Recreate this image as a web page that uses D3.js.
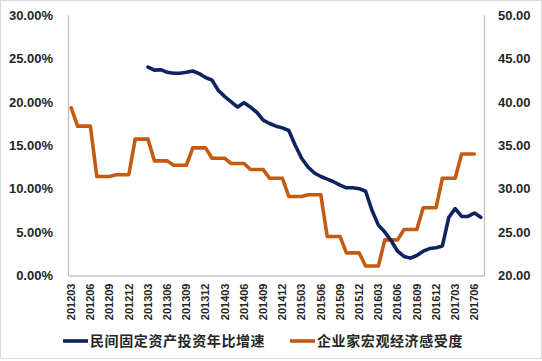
<!doctype html>
<html>
<head>
<meta charset="utf-8">
<title>民间固定资产投资与企业家宏观经济感受度</title>
<script src="https://cdnjs.cloudflare.com/ajax/libs/d3/7.8.5/d3.min.js"></script>
<style>
  body { margin: 0; background: #fff; }
  svg text { font-family: "Liberation Sans", Arial, sans-serif; }
</style>
</head>
<body>
<div id="chart"></div>
<script>
// months on the category axis
const months = [
  "201203","201204","201205","201206","201207","201208","201209","201210","201211","201212",
  "201301","201302","201303","201304","201305","201306","201307","201308","201309","201310","201311","201312",
  "201401","201402","201403","201404","201405","201406","201407","201408","201409","201410","201411","201412",
  "201501","201502","201503","201504","201505","201506","201507","201508","201509","201510","201511","201512",
  "201601","201602","201603","201604","201605","201606","201607","201608","201609","201610","201611","201612",
  "201701","201702","201703","201704","201705","201706","201707"
];
// labels shown every 3 months
const tickLabels = [
  "201203","201206","201209","201212","201303","201306","201309","201312",
  "201403","201406","201409","201412","201503","201506","201509","201512",
  "201603","201606","201609","201612","201703","201706"
];
// 民间固定资产投资年比增速 (%), left axis, starts 201303
const privateInvest = [
  null,null,null,null,null,null,null,null,null,null,null,null,
  24.0,23.65,23.7,23.4,23.3,23.3,23.4,23.55,23.25,22.8,
  22.5,21.3,20.6,20.0,19.4,19.9,19.4,18.8,17.9,17.5,
  17.2,17.0,16.7,15.0,13.5,12.5,11.8,11.4,11.1,10.8,
  10.4,10.1,10.1,10.0,9.7,7.5,5.8,5.0,4.0,2.8,
  2.2,2.0,2.3,2.8,3.1,3.2,3.4,6.7,7.7,6.8,
  6.8,7.2,6.7
];
// 企业家宏观经济感受度, right axis
const sentiment = [
  39.3, 37.2,37.2,37.2, 31.4,31.4,31.4, 31.6,31.6,31.6, 35.7,35.7,35.7,
  33.2,33.2,33.2, 32.7,32.7,32.7, 34.7,34.7,34.7, 33.5,33.5,33.5,
  32.9,32.9,32.9, 32.2,32.2,32.2, 31.2,31.2,31.2, 29.1,29.1,29.1,
  29.3,29.3,29.3, 24.5,24.5,24.5, 22.6,22.6,22.6, 21.1,21.1,21.1,
  24.1,24.1,24.1, 25.3,25.3,25.3, 27.8,27.8,27.8, 31.2,31.2,31.2,
  34.0,34.0,34.0, null
];
const leftTicks = [0, 5, 10, 15, 20, 25, 30];
const rightTicks = [20, 25, 30, 35, 40, 45, 50];
const seriesNames = ["民间固定资产投资年比增速", "企业家宏观经济感受度"];
const colors = ["#0f2360", "#c55a11"];

const W = 542, H = 361;
const plot = { left: 68, right: 484, top: 15, bottom: 275.5 };

const svg = d3.select('#chart').append('svg')
  .attr('width', W).attr('height', H);

// outer chart frame
svg.append('rect')
  .attr('x', 0.5).attr('y', 0.5)
  .attr('width', W - 1).attr('height', H - 3)
  .attr('fill', '#fff').attr('stroke', '#d9d9d9');

const x = d3.scaleBand().domain(months).range([plot.left, plot.right]).padding(0);
const yL = d3.scaleLinear().domain([0, 30]).range([plot.bottom, plot.top]);
const yR = d3.scaleLinear().domain([20, 50]).range([plot.bottom, plot.top]);
const cx = m => x(m) + x.bandwidth() / 2;

// axes
const leftAxis = d3.axisLeft(yL).tickValues(leftTicks).tickSize(0).tickPadding(15)
  .tickFormat(d => d.toFixed(2) + '%');
const rightAxis = d3.axisRight(yR).tickValues(rightTicks).tickSize(0).tickPadding(14)
  .tickFormat(d => d.toFixed(2));
const bottomAxis = d3.axisBottom(x).tickValues(tickLabels).tickSize(0);

const gL = svg.append('g').attr('transform', `translate(${plot.left},0)`).call(leftAxis);
const gR = svg.append('g').attr('transform', `translate(${plot.right},0)`).call(rightAxis);
const gB = svg.append('g').attr('transform', `translate(0,${plot.bottom})`).call(bottomAxis);

[gL, gR, gB].forEach(g => {
  g.select('.domain').attr('stroke', '#bfbfbf').attr('stroke-width', 1.3);
  g.selectAll('text')
    .attr('fill', '#262626')
    .style('font-weight', 'bold')
    .style('font-family', '"Liberation Sans", Arial, sans-serif');
});
gL.selectAll('text').style('font-size', '13px');
gR.selectAll('text').style('font-size', '13px');
gB.selectAll('text')
  .style('font-size', '11px')
  .attr('transform', 'rotate(-90)')
  .attr('text-anchor', 'end')
  .attr('x', -8).attr('y', 0)
  .attr('dy', '0.35em');

// lines
const lineL = d3.line()
  .defined(d => d.v != null)
  .x(d => cx(d.m)).y(d => yL(d.v));
const lineR = d3.line()
  .defined(d => d.v != null)
  .x(d => cx(d.m)).y(d => yR(d.v));

svg.append('path')
  .datum(months.map((m, i) => ({ m: m, v: sentiment[i] })))
  .attr('d', lineR)
  .attr('fill', 'none').attr('stroke', colors[1])
  .attr('stroke-width', 3.6).attr('stroke-linejoin', 'round').attr('stroke-linecap', 'round');

svg.append('path')
  .datum(months.map((m, i) => ({ m: m, v: privateInvest[i] })))
  .attr('d', lineL)
  .attr('fill', 'none').attr('stroke', colors[0])
  .attr('stroke-width', 3.6).attr('stroke-linejoin', 'round').attr('stroke-linecap', 'round');

// legend
const legendX = [63, 290];
const legend = svg.selectAll('.legend').data(seriesNames).join('g')
  .attr('class', 'legend')
  .attr('transform', (d, i) => `translate(${legendX[i]},341)`);
legend.append('line')
  .attr('x1', 0).attr('x2', 25).attr('y1', 0).attr('y2', 0)
  .attr('stroke', (d, i) => colors[i]).attr('stroke-width', 3.6);
legend.append('text')
  .attr('x', 27).attr('y', 0).attr('dy', '0.36em')
  .style('font-family', '"Noto Sans CJK SC", sans-serif')
  .style('font-weight', 'bold')
  .style('font-size', '14px')
  .style('letter-spacing', '0.6px')
  .attr('fill', '#262626')
  .text(d => d);
</script>
</body>
</html>
